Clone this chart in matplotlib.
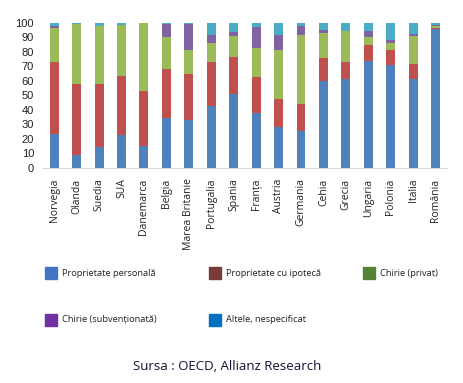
import matplotlib
matplotlib.use('agg')
import matplotlib.pyplot as plt
from matplotlib.patches import Rectangle
import numpy as np

countries = ["Norvegia", "Olanda", "Suedia", "SUA", "Danemarca", "Belgia",
             "Marea Britanie", "Portugalia", "Spania", "Franța", "Austria",
             "Germania", "Cehia", "Grecia", "Ungaria", "Polonia", "Italia",
             "România"]

personala = [23.2, 8.7, 14.5, 23.0, 15.2, 34.5, 33.3, 42.3, 50.8, 37.7, 28.3,
             25.5, 59.5, 60.9, 73.3, 70.8, 60.9, 95.6]
ipoteca = [49.7, 48.8, 43.0, 40.2, 37.9, 33.3, 31.3, 30.3, 25.5, 24.6, 19.3,
           18.4, 16.4, 11.7, 11.5, 10.3, 10.4, 1.0]
privat = [23.4, 41.6, 40.4, 35.2, 46.9, 22.5, 16.5, 13.4, 14.7, 20.0, 33.5,
          47.8, 17.2, 21.7, 5.5, 5.1, 19.5, 1.1]
subventionata = [1.4, 0.0, 0.0, 0.0, 0.0, 8.8, 18.0, 5.5, 2.8, 14.9, 10.4,
                 6.2, 1.6, 0.0, 3.7, 1.6, 1.6, 0.9]
altele = [2.3, 0.9, 2.1, 1.6, 0.0, 0.9, 0.9, 8.5, 6.2, 2.8, 8.5, 2.1, 5.3,
          5.7, 6.0, 12.2, 7.6, 1.4]

series = [personala, ipoteca, privat, subventionata, altele]
bar_colors = ["#4F81BD", "#C0504D", "#9BBB59", "#8064A2", "#4BACC6"]
legend_labels = ["Proprietate personală", "Proprietate cu ipotecă",
                 "Chirie (privat)", "Chirie (subvenționată)",
                 "Altele, nespecificat"]
legend_colors = ["#4472C4", "#7B3B3B", "#548235", "#7030A0", "#0070C0"]

fig = plt.figure(figsize=(4.64, 3.83), dpi=100)
ax = fig.add_axes([0.0927, 0.5614, 0.8703, 0.3796])

x = np.arange(len(countries))
bottom = np.zeros(len(countries))
for vals, col in zip(series, bar_colors):
    ax.bar(x, vals, width=0.4, bottom=bottom, color=col, edgecolor="none")
    bottom += np.array(vals)

ax.set_xlim(-0.5, len(countries) - 0.5)
ax.set_ylim(0, 100)
ax.set_yticks(range(0, 101, 10))
ax.set_xticks(x)
ax.set_xticklabels(countries, rotation=90, fontsize=7.5, family="Open Sans",
                   color="#222222")
for lbl in ax.get_yticklabels():
    lbl.set_family("Liberation Sans")
    lbl.set_fontsize(8)
    lbl.set_color("#222222")
ax.tick_params(axis="y", length=0, pad=6.5)
ax.tick_params(axis="x", length=0, pad=7.5)
for s in ["top", "right", "left"]:
    ax.spines[s].set_visible(False)
ax.spines["bottom"].set_color("#d9d9d9")

# legend drawn by hand, excel style
pos = [(45, 267), (209, 267), (363, 267), (45, 314), (209, 314)]
W, H = 464.0, 383.0
for (px, py), lab, col in zip(pos, legend_labels, legend_colors):
    fig.add_artist(Rectangle((px / W, 1 - (py + 12) / H), 12 / W, 12 / H,
                             transform=fig.transFigure, color=col))
    fig.text((px + 17) / W, 1 - (py + 6) / H, lab, fontsize=6.7,
             family="Open Sans", va="center", color="#222222")

fig.text(227 / W, 1 - 367 / H, "Sursa : OECD, Allianz Research", fontsize=9.5,
         family="Open Sans", ha="center", va="center", color="#111133")

fig.savefig("out.png", dpi=100)
